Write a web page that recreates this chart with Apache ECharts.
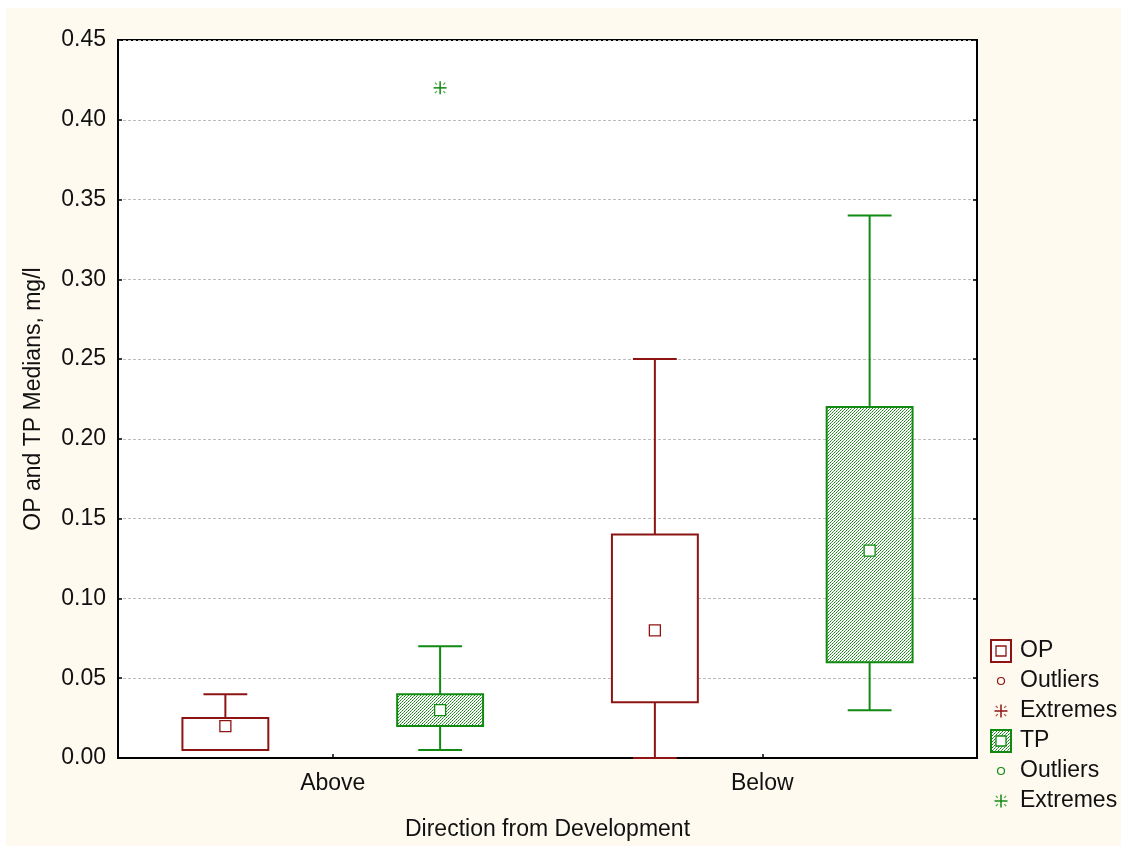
<!DOCTYPE html>
<html>
<head>
<meta charset="utf-8">
<script src="https://cdn.jsdelivr.net/npm/echarts@6/dist/echarts.min.js"></script>
<style>
html,body{margin:0;padding:0;background:#fff;}
#wrap{position:relative;width:1121px;height:846px;background:#fff;}
#chart{position:absolute;left:6px;top:8px;width:1115px;height:838px;}
</style>
</head>
<body>
<div id="wrap"><div id="chart"></div></div>
<script>
// ---- data ----
const categories = ['Above', 'Below'];
const yTicks = [0, 0.05, 0.10, 0.15, 0.20, 0.25, 0.30, 0.35, 0.40, 0.45];
// OP (orthophosphate)
const opMin = [0.005, 0.000];
const opQ1  = [0.005, 0.035];
const opMed = [0.020, 0.080];
const opQ3  = [0.025, 0.140];
const opMax = [0.040, 0.250];
// TP (total phosphorus)
const tpMin = [0.005, 0.030];
const tpQ1  = [0.020, 0.060];
const tpMed = [0.030, 0.130];
const tpQ3  = [0.040, 0.220];
const tpMax = [0.070, 0.340];
// extremes: [category index, value]
const opExtremes = [];
const tpExtremes = [[0, 0.42]];
const legendLabels = ['OP', 'Outliers', 'Extremes', 'TP', 'Outliers', 'Extremes'];

// ---- styles ----
const OP_COLOR = '#8E1414';
const TP_COLOR = '#108A10';
const FONT = '"Liberation Sans", Arial, sans-serif';
const FS = 23;

function hatchPattern() {
  const c = document.createElement('canvas');
  c.width = 6; c.height = 6;
  const ctx = c.getContext('2d');
  ctx.fillStyle = '#ffffff';
  ctx.fillRect(0, 0, 6, 6);
  for (let x = 0; x < 6; x++) for (let y = 0; y < 6; y++) {
    if ((x + y) % 3 === 0) {
      ctx.fillStyle = (x % 2 === 0) ? '#0f7f0f' : 'rgba(20,130,20,0.7)';
      ctx.fillRect(x, y, 1, 1);
    }
  }
  return { image: c, repeat: 'repeat' };
}
const HATCH = hatchPattern();

function boxData(mn, q1, md, q3, mx) {
  return categories.map((c, i) => [i, mn[i], q1[i], md[i], q3[i], mx[i]]);
}

function makeBoxRender(offsetFrac, color, fill) {
  return function (params, api) {
    const ci = api.value(0);
    const band = api.size([1, 0])[0];
    const cx = api.coord([ci, 0])[0] + offsetFrac * band;
    const half = band * 0.1;
    const cap = band * 0.051;
    const Y = v => api.coord([ci, v])[1];
    const yMin = Y(api.value(1)), yQ1 = Y(api.value(2)), yMed = Y(api.value(3)),
          yQ3 = Y(api.value(4)), yMax = Y(api.value(5));
    const ls = { stroke: color, lineWidth: 2 };
    return {
      type: 'group',
      children: [
        { type: 'line', shape: { x1: cx, y1: yMax, x2: cx, y2: yQ3 }, style: ls },
        { type: 'line', shape: { x1: cx, y1: yQ1, x2: cx, y2: yMin }, style: ls },
        { type: 'line', shape: { x1: cx - cap, y1: yMax, x2: cx + cap, y2: yMax }, style: ls },
        { type: 'line', shape: { x1: cx - cap, y1: yMin, x2: cx + cap, y2: yMin }, style: ls },
        { type: 'rect', shape: { x: cx - half, y: yQ3, width: 2 * half, height: yQ1 - yQ3 },
          style: { fill: fill, stroke: color, lineWidth: 2 } },
        { type: 'rect', shape: { x: cx - 5.5, y: yMed - 5.5, width: 11, height: 11 },
          style: { fill: '#fff', stroke: color, lineWidth: 1.3 } }
      ]
    };
  };
}

function asteriskChildren(x, y, color) {
  const s = { stroke: color, lineWidth: 1.5 };
  const sd = { stroke: color, lineWidth: 1.2, opacity: 0.75 };
  const r = 6.5, a = 3.2, b = 5.2;
  return [
    { type: 'line', shape: { x1: x - r, y1: y, x2: x + r, y2: y }, style: s },
    { type: 'line', shape: { x1: x, y1: y - r, x2: x, y2: y + r }, style: s },
    { type: 'line', shape: { x1: x - b, y1: y - b, x2: x - a, y2: y - a }, style: sd },
    { type: 'line', shape: { x1: x + a, y1: y - a, x2: x + b, y2: y - b }, style: sd },
    { type: 'line', shape: { x1: x - b, y1: y + b, x2: x - a, y2: y + a }, style: sd },
    { type: 'line', shape: { x1: x + a, y1: y + a, x2: x + b, y2: y + b }, style: sd }
  ];
}

function makeExtremeRender(offsetFrac, color) {
  return function (params, api) {
    const ci = api.value(0);
    const band = api.size([1, 0])[0];
    const p = api.coord([ci, api.value(1)]);
    return { type: 'group', children: asteriskChildren(p[0] + offsetFrac * band, p[1], color) };
  };
}

// ---- legend (graphic) ----
function legendGraphic() {
  const x0 = 985, iconX = 994, textX = 1014;
  const rows = [643, 673, 703, 733, 763, 793]; // centers in chart coords
  const els = [];
  const txt = (y, t) => ({ type: 'text', left: textX, top: y - 12,
    style: { text: t, font: FS + 'px ' + FONT, fill: '#111' } });
  els.push({ type: 'rect', shape: { x: x0, y: rows[0] - 11, width: 20, height: 22 },
    style: { fill: '#fff', stroke: OP_COLOR, lineWidth: 2 } });
  els.push({ type: 'rect', shape: { x: x0 + 5, y: rows[0] - 5, width: 10, height: 10 },
    style: { fill: '#fff', stroke: OP_COLOR, lineWidth: 1.3 } });
  els.push({ type: 'circle', shape: { cx: iconX + 1, cy: rows[1], r: 3.5 },
    style: { fill: 'none', stroke: OP_COLOR, lineWidth: 1.2 } });
  asteriskChildren(iconX + 1, rows[2], OP_COLOR).forEach(e => els.push(e));
  els.push({ type: 'rect', shape: { x: x0, y: rows[3] - 11, width: 20, height: 22 },
    style: { fill: HATCH, stroke: TP_COLOR, lineWidth: 2 } });
  els.push({ type: 'rect', shape: { x: x0 + 5, y: rows[3] - 5, width: 10, height: 10 },
    style: { fill: '#fff', stroke: TP_COLOR, lineWidth: 1.3 } });
  els.push({ type: 'circle', shape: { cx: iconX + 1, cy: rows[4], r: 3.5 },
    style: { fill: 'none', stroke: TP_COLOR, lineWidth: 1.2 } });
  asteriskChildren(iconX + 1, rows[5], TP_COLOR).forEach(e => els.push(e));
  legendLabels.forEach((t, i) => els.push(txt(rows[i], t)));
  return els;
}

const chart = echarts.init(document.getElementById('chart'));
const yAxisCommon = {
  type: 'value', min: 0, max: 0.45, interval: 0.05,
  axisLine: { show: true, lineStyle: { color: '#000', width: 2 } },
  axisTick: { show: true, inside: true, length: 4, lineStyle: { color: '#000', width: 1.5 } }
};
chart.setOption({
  backgroundColor: '#FEFAF0',
  animation: false,
  textStyle: { fontFamily: FONT },
  grid: { left: 112, right: 144, top: 32, bottom: 85, show: true, backgroundColor: '#fff',
          borderColor: '#000', borderWidth: 2 },
  xAxis: {
    type: 'category', data: categories,
    name: 'Direction from Development', nameLocation: 'middle', nameGap: 60,
    nameTextStyle: { fontSize: FS, color: '#111', fontFamily: FONT },
    axisLine: { show: true, lineStyle: { color: '#000', width: 2 } },
    axisTick: { show: true, inside: true, length: 4, alignWithLabel: true, lineStyle: { color: '#000', width: 1.5 } },
    axisLabel: { fontSize: FS, color: '#111', margin: 14, fontFamily: FONT },
    splitLine: { show: false }
  },
  yAxis: [
    Object.assign({}, yAxisCommon, {
      position: 'left',
      name: 'OP and TP Medians, mg/l', nameLocation: 'middle', nameGap: 73,
      nameTextStyle: { fontSize: FS, color: '#111', fontFamily: FONT },
      axisLabel: { fontSize: FS, color: '#111', margin: 12, fontFamily: FONT,
                   formatter: v => v.toFixed(2) },
      splitLine: { show: true, lineStyle: { color: '#bdbdbd', type: [3, 2], width: 1 } }
    }),
    Object.assign({}, yAxisCommon, {
      position: 'right',
      axisLabel: { show: false },
      splitLine: { show: false }
    })
  ],
  series: [
    { name: 'OP', type: 'custom', renderItem: makeBoxRender(-0.25, OP_COLOR, '#fff'),
      data: boxData(opMin, opQ1, opMed, opQ3, opMax), encode: { x: 0, y: [1, 2, 3, 4, 5] }, clip: false },
    { name: 'TP', type: 'custom', renderItem: makeBoxRender(0.25, TP_COLOR, HATCH),
      data: boxData(tpMin, tpQ1, tpMed, tpQ3, tpMax), encode: { x: 0, y: [1, 2, 3, 4, 5] }, clip: false },
    { name: 'OP Extremes', type: 'custom', renderItem: makeExtremeRender(-0.25, OP_COLOR),
      data: opExtremes, encode: { x: 0, y: 1 } },
    { name: 'TP Extremes', type: 'custom', renderItem: makeExtremeRender(0.25, TP_COLOR),
      data: tpExtremes, encode: { x: 0, y: 1 } }
  ],
  graphic: legendGraphic()
});
</script>
</body>
</html>
